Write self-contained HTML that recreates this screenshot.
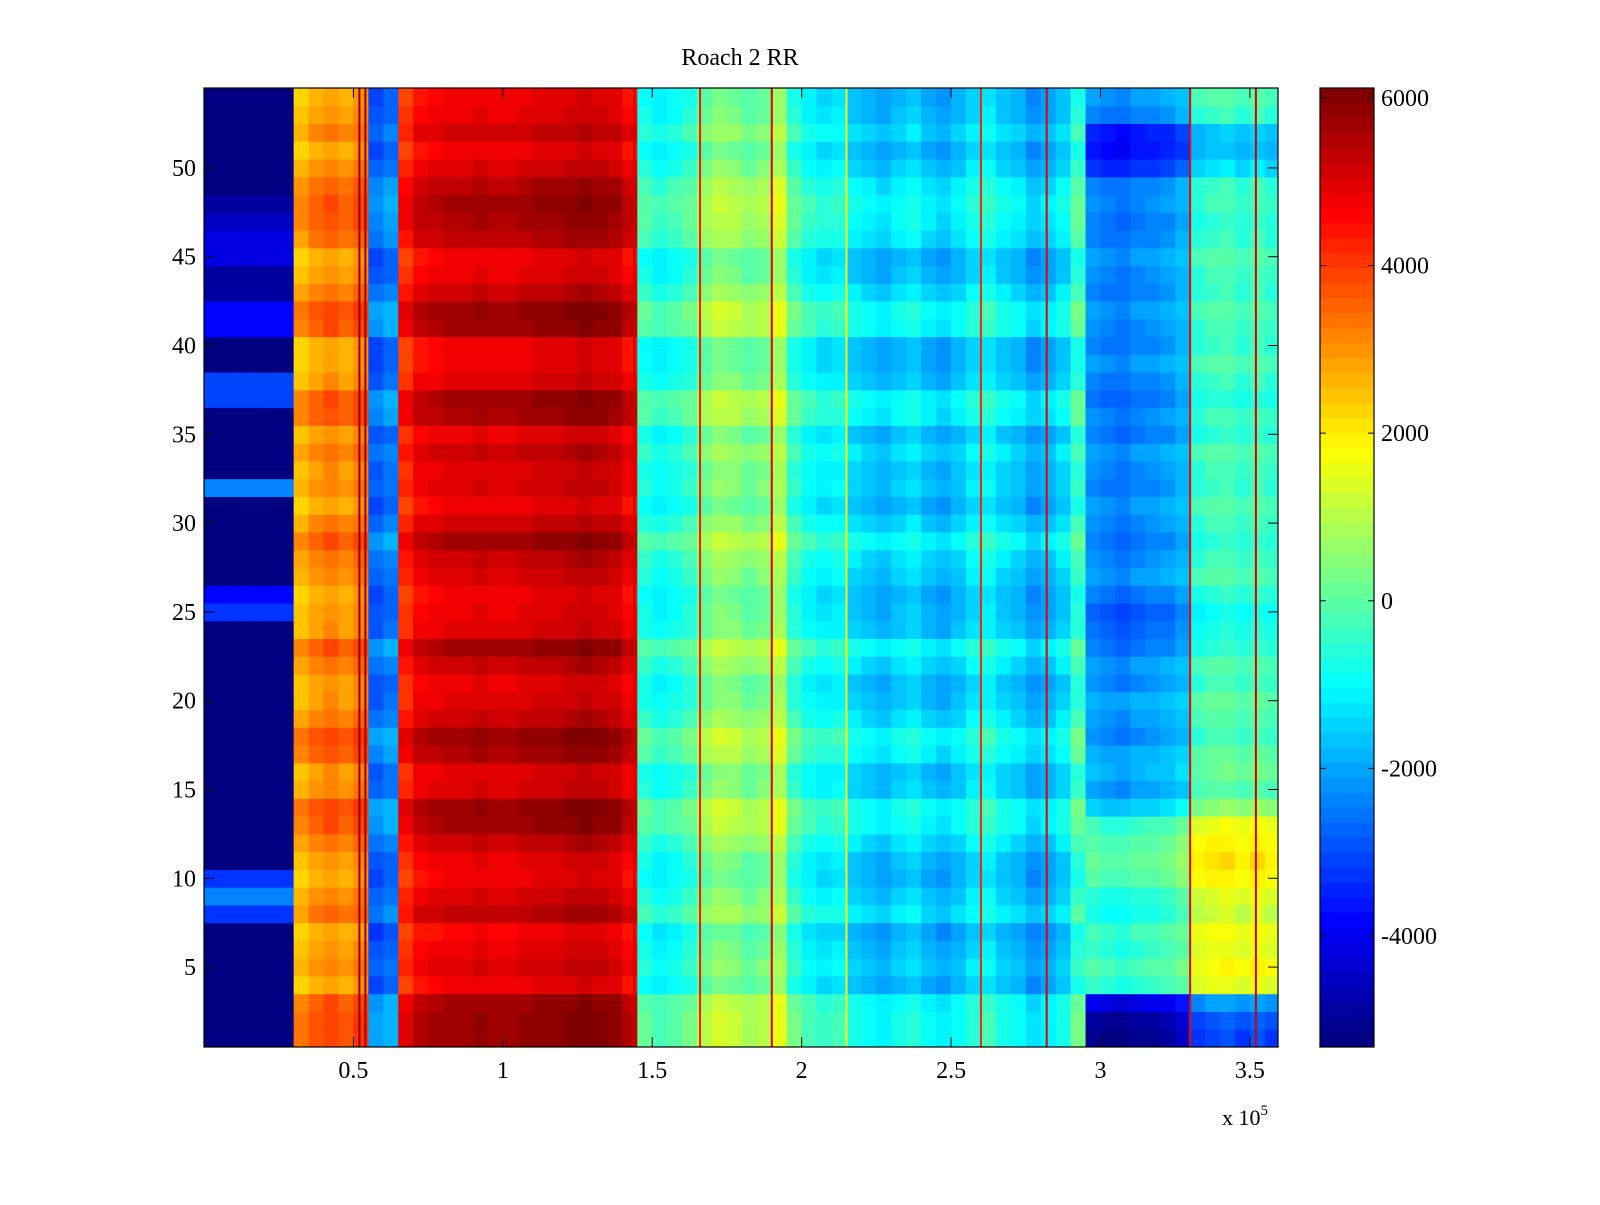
<!DOCTYPE html>
<html><head><meta charset="utf-8"><style>
html,body{margin:0;padding:0;background:#fff;}
svg text{font-family:"Liberation Serif",serif;fill:#000;}
</style></head><body>
<svg id="chart" width="1600" height="1200" viewBox="0 0 1600 1200" xmlns="http://www.w3.org/2000/svg">
<rect width="1600" height="1200" fill="#fff"/>
<text x="740" y="65" font-size="24" text-anchor="middle">Roach 2 RR</text>
<g id="cells"></g>
<g id="stripes"></g>
<g id="axes"></g>
<g id="cbar"></g>
<text x="1222" y="1125" font-size="22">x 10<tspan font-size="15" dy="-10">5</tspan></text>
</svg>
<script>
// ---- data ----
const binWidth = 5000;
const colProfile = [-5300,-5300,-5300,-5300,-5300,-5300,2600,3000,3200,3000,3300,-2800,-2500,4200,
4800,4900,5000,5000,5100,5000,5000,5100,5200,5200,5300,5400,5300,5200,4800,
-600,-900,-700,-400,300,600,500,200,400,900,-400,-900,-1100,-1000,
-1400,-1600,-1800,-1500,-1300,-1700,-1900,-1600,-1200,
-1000,-1400,-1600,-2000,-1800,-1400,-400,
-2000,-2200,-2300,-2100,-2000,-1900,-1600,
-300,-100,0,-200,0,-200];
const rowOffset = [700,700,600,-300,0,-200,-400,300,0,-300,-200,200,600,700,0,-100,500,700,200,-100,-200,200,600,-100,-200,-300,0,200,600,100,-300,0,-100,200,-200,500,600,-100,-300,-300,600,700,200,-200,-300,300,500,600,400,0,-300,100,-200,-300];
const tailOffset = [-3000,-2800,-2000,1600,1900,1600,1800,1300,1500,2000,2200,2000,1700,600,0,300,200,-200,0,200,-200,0,-400,-600,-800,-400,0,-200,-400,-200,0,-300,-200,0,-400,-200,-500,-300,0,-300,-200,0,-300,-200,0,-300,-400,-200,-300,-1200,-1600,-1500,-300,0];
const firstRegionRows = [0,0,0,0,0,0,0,2000,3000,2000,0,0,0,0,0,0,0,0,0,0,0,0,0,0,2000,1500,0,0,0,0,0,3000,0,0,0,0,2200,2200,0,0,1500,1500,500,500,1200,1200,800,400,0,0,0,0,0,0];
const stripeX = [0.52,0.54,1.44,1.66,1.9,2.15,2.6,2.82,3.3,3.52];
const stripeVal = [5800,5600,5200,4500,5000,1800,4200,5000,4800,5200];
const xTicks = [0.5,1,1.5,2,2.5,3,3.5];
const yTicks = [5,10,15,20,25,30,35,40,45,50];
const cbTicks = [6000,4000,2000,0,-2000,-4000];

// ---- geometry ----
const L=204,R=1278,T=88,B=1047, XMAX=3.594e5, YMIN=0.5, YMAX=54.5;
const CMIN=-5325, CMAX=6119;
const xs=v=>L+(v/XMAX)*(R-L);
const ys=v=>B-(v-YMIN)/(YMAX-YMIN)*(B-T);
function jet(t){t=Math.max(0,Math.min(1,t));t=Math.floor(t*63.999)/63;
 const f=x=>Math.max(0,Math.min(1,x));
 const r=f(1.5-Math.abs(4*t-3)),g=f(1.5-Math.abs(4*t-2)),b=f(1.5-Math.abs(4*t-1));
 return `rgb(${Math.round(r*255)},${Math.round(g*255)},${Math.round(b*255)})`;}
const col=v=>jet((v-CMIN)/(CMAX-CMIN));
const NS='http://www.w3.org/2000/svg';
function mk(tag,attrs,parent){const e=document.createElementNS(NS,tag);for(const k in attrs)e.setAttribute(k,attrs[k]);parent.appendChild(e);return e;}

const cells=document.getElementById('cells');
for(let r=0;r<rowOffset.length;r++){
 for(let c=0;c<colProfile.length;c++){
  const x0=c*binWidth; let v=colProfile[c];
  if(c<6) v+=firstRegionRows[r];
  else if(c>=59) v+=tailOffset[r];
  else v+=rowOffset[r];
  const x1=xs(x0), x2=Math.min(R,xs(x0+binWidth));
  if(x1>=R) continue;
  const e=mk('rect',{x:x1,y:ys(r+1.5),width:x2-x1+0.5,height:ys(r+0.5)-ys(r+1.5)+0.5,fill:col(v)},cells);
  
  
 }
}
const st=document.getElementById('stripes');
stripeX.forEach((sx,i)=>{
 const e=mk('rect',{x:xs(sx*1e5)-1,y:T,width:2,height:B-T,fill:col(stripeVal[i])},st);
 
 
});
const ax=document.getElementById('axes');
mk('rect',{x:L,y:T,width:R-L,height:B-T,fill:'none',stroke:'#000','stroke-width':1.2},ax);
xTicks.forEach(t=>{const x=xs(t*1e5);
 mk('line',{x1:x,x2:x,y1:B,y2:B-10,stroke:'#000'},ax);mk('line',{x1:x,x2:x,y1:T,y2:T+10,stroke:'#000'},ax);
 const tx=mk('text',{x:x,y:B+31,'font-size':24,'text-anchor':'middle'},ax);tx.textContent=t;
 
 });
yTicks.forEach(t=>{const y=ys(t);
 mk('line',{x1:L,x2:L+10,y1:y,y2:y,stroke:'#000'},ax);mk('line',{x1:R,x2:R-10,y1:y,y2:y,stroke:'#000'},ax);
 const tx=mk('text',{x:L-8,y:y+8,'font-size':24,'text-anchor':'end'},ax);tx.textContent=t;
 
 });
const cb=document.getElementById('cbar');
const CL=1320,CR=1374;
const cys=v=>B-(v-CMIN)/(CMAX-CMIN)*(B-T);
for(let i=0;i<64;i++){const v0=CMIN+(CMAX-CMIN)*i/64,v1=CMIN+(CMAX-CMIN)*(i+1)/64;
 const e=mk('rect',{x:CL,y:cys(v1),width:CR-CL,height:cys(v0)-cys(v1)+0.5,fill:jet((i+0.5)/64)},cb);
 
 }
mk('rect',{x:CL,y:T,width:CR-CL,height:B-T,fill:'none',stroke:'#000','stroke-width':1.2},cb);
cbTicks.forEach(t=>{const y=cys(t);
 mk('line',{x1:CL,x2:CL+6,y1:y,y2:y,stroke:'#000'},cb);mk('line',{x1:CR,x2:CR-6,y1:y,y2:y,stroke:'#000'},cb);
 const tx=mk('text',{x:1381,y:y+8,'font-size':24},cb);tx.textContent=t;
 
 });
</script>
</body></html>
